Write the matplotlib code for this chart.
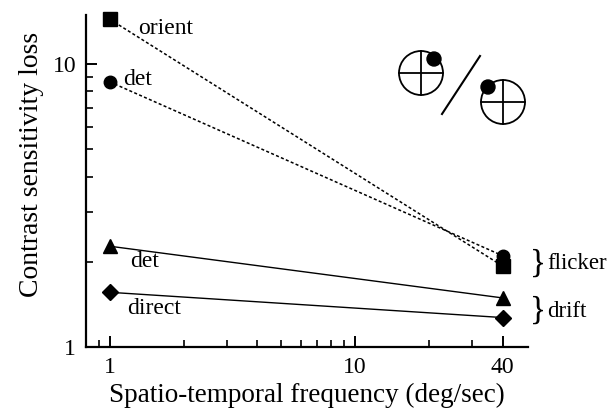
import matplotlib.pyplot as plt
from matplotlib.patches import Circle
from matplotlib.ticker import FixedLocator, NullFormatter

plt.rcParams['font.family'] = ['Liberation Serif', 'DejaVu Serif']

freq = [1, 40]
flicker_orient = [14.4, 1.93]
flicker_det = [8.65, 2.1]
drift_det = [2.27, 1.49]
drift_direct = [1.56, 1.27]

fig = plt.figure(figsize=(6.1, 4.19), dpi=100)
ax = fig.add_axes([0.141, 0.172, 0.725, 0.792])

ax.plot(freq, flicker_orient, ls=(0, (2, 1.5)), lw=1.1, color='black',
        marker='s', ms=9.5, clip_on=False)
ax.plot(freq, flicker_det, ls=(0, (2, 1.5)), lw=1.1, color='black',
        marker='o', ms=9, clip_on=False)
ax.plot(freq, drift_det, ls='-', lw=1.0, color='black',
        marker='^', ms=10, clip_on=False)
ax.plot(freq, drift_direct, ls='-', lw=1.0, color='black',
        marker='D', ms=8.5, clip_on=False)

ax.set_xscale('log')
ax.set_yscale('log')
ax.set_xlim(0.8, 50.8)
ax.set_ylim(1, 14.9)

ax.xaxis.set_major_locator(FixedLocator([1, 10, 40]))
ax.set_xticklabels(['1', '10', '40'])
ax.xaxis.set_minor_locator(FixedLocator([0.9, 2, 3, 4, 5, 6, 7, 8, 9, 20, 30]))
ax.xaxis.set_minor_formatter(NullFormatter())
ax.yaxis.set_major_locator(FixedLocator([1, 10]))
ax.set_yticklabels(['1', '10'])
ax.yaxis.set_minor_locator(FixedLocator([2, 3, 4, 5, 6, 7, 8, 9]))
ax.yaxis.set_minor_formatter(NullFormatter())

for s in ['top', 'right']:
    ax.spines[s].set_visible(False)
for s in ['left', 'bottom']:
    ax.spines[s].set_linewidth(1.6)
ax.tick_params(which='major', direction='in', length=8, width=1.4,
               labelsize=17, pad=7)
ax.tick_params(which='minor', direction='in', length=5, width=1.2)

ax.set_xlabel('Spatio-temporal frequency (deg/sec)', fontsize=19.5, labelpad=4)
ax.set_ylabel('Contrast sensitivity loss', fontsize=20)
ax.yaxis.set_label_coords(-0.095, 0.55)

# curve labels
ax.text(1.31, 13.4, 'orient', fontsize=17, va='center')
ax.text(1.13, 8.8, 'det', fontsize=17, va='center')
ax.text(1.21, 2.0, 'det', fontsize=17, va='center')
ax.text(1.18, 1.37, 'direct', fontsize=17, va='center')
ax.text(51.5, 1.98, '}', fontsize=24, va='center', clip_on=False)
ax.text(61, 1.98, 'flicker', fontsize=16.5, va='center', clip_on=False)
ax.text(51.5, 1.35, '}', fontsize=24, va='center', clip_on=False)
ax.text(60.5, 1.33, 'drift', fontsize=16.5, va='center', clip_on=False)

# inset diagram, drawn in figure pixels
ov = fig.add_axes([0, 0, 1, 1])
ov.set_xlim(0, 610)
ov.set_ylim(419, 0)
ov.axis('off')
for cx, cy, dx, dy in [(421, 73, 434, 59), (503, 102, 488, 87)]:
    ov.add_patch(Circle((cx, cy), 22, fill=False, lw=1.3, color='black'))
    ov.plot([cx - 22, cx + 22], [cy, cy], color='black', lw=1.3)
    ov.plot([cx, cx], [cy - 22, cy + 22], color='black', lw=1.3)
    ov.add_patch(Circle((dx, dy), 7, color='black'))
ov.plot([480, 442], [56, 114], color='black', lw=1.5)

fig.savefig('out.png', dpi=100)
